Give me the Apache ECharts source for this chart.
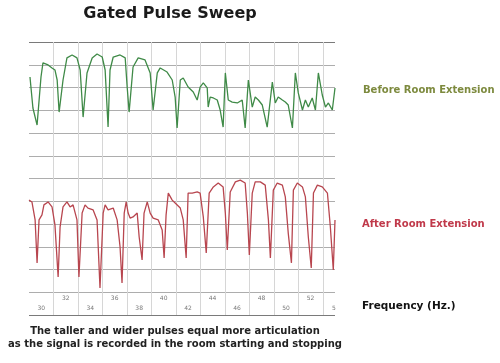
<!DOCTYPE html>
<html>
<head>
<meta charset="utf-8">
<script src="https://cdn.jsdelivr.net/npm/echarts@6/dist/echarts.min.js"></script>
<style>html,body{margin:0;padding:0;background:#fff}#c{width:500px;height:363px}</style>
</head>
<body>
<div id="c"></div>
<script>
// Sweep position (grid columns) and trace level (grid divisions)
const beforeX = [0.04,0.16,0.33,0.49,0.57,0.78,0.94,1.06,1.15,1.23,1.27,1.39,1.55,1.76,1.96,2.09,2.21,2.37,2.58,2.78,2.99,3.11,3.23,3.31,3.44,3.72,3.93,4.01,4.09,4.25,4.46,4.74,4.95,5.07,5.24,5.36,5.64,5.85,5.97,6.05,6.18,6.30,6.50,6.71,6.87,6.99,7.12,7.28,7.32,7.40,7.53,7.69,7.81,7.93,8.02,8.14,8.30,8.51,8.71,8.83,8.96,9.12,9.24,9.37,9.53,9.73,9.94,10.06,10.18,10.35,10.47,10.59,10.76,10.88,11.00,11.17,11.29,11.41,11.57,11.70,11.82,11.98,12.11,12.23,12.39,12.50];
const beforeY = [10.46,9.10,8.35,10.46,11.08,10.99,10.86,10.77,10.33,8.92,8.88,10.33,11.30,11.43,11.30,10.77,8.70,10.64,11.30,11.47,11.34,10.77,8.26,10.77,11.34,11.43,11.30,10.02,8.92,10.90,11.30,11.21,10.64,9.01,10.64,10.86,10.68,10.33,9.58,8.22,10.33,10.42,10.02,9.80,9.45,10.02,10.20,9.98,9.14,9.58,9.54,9.45,9.01,8.26,10.64,9.45,9.36,9.32,9.45,8.22,10.33,9.14,9.58,9.45,9.23,8.26,10.24,9.32,9.58,9.45,9.36,9.23,8.22,10.64,9.76,9.01,9.45,9.14,9.54,9.01,10.64,9.67,9.14,9.32,9.01,9.98];
const afterX = [0.00,0.12,0.25,0.33,0.41,0.53,0.61,0.78,0.94,1.06,1.19,1.27,1.39,1.55,1.68,1.80,1.96,2.04,2.17,2.29,2.41,2.62,2.78,2.90,3.03,3.11,3.23,3.44,3.60,3.72,3.80,3.89,3.97,4.05,4.13,4.25,4.42,4.50,4.62,4.70,4.83,4.95,5.07,5.28,5.44,5.52,5.60,5.69,5.85,5.97,6.18,6.30,6.42,6.50,6.67,6.87,6.99,7.12,7.24,7.36,7.53,7.73,7.93,8.02,8.10,8.22,8.43,8.63,8.83,8.92,9.00,9.12,9.24,9.45,9.65,9.78,9.86,9.98,10.14,10.35,10.47,10.59,10.72,10.80,10.96,11.17,11.29,11.41,11.53,11.62,11.78,11.98,12.19,12.31,12.43,12.50];
const afterY = [5.05,4.97,4.18,2.29,4.18,4.40,4.84,4.97,4.75,3.96,1.67,3.87,4.75,4.97,4.75,4.84,4.18,1.67,4.48,4.84,4.70,4.62,4.18,1.19,4.48,4.84,4.62,4.70,4.18,2.99,1.41,4.48,4.97,4.48,4.26,4.31,4.48,3.43,2.42,4.48,4.97,4.48,4.26,4.18,3.74,2.51,4.40,5.36,5.05,4.92,4.70,4.18,2.51,5.36,5.36,5.41,5.36,4.31,2.73,5.36,5.63,5.80,5.63,4.48,2.86,5.41,5.85,5.93,5.80,4.48,2.64,5.36,5.85,5.85,5.71,4.18,2.51,5.49,5.80,5.71,5.19,3.60,2.29,5.49,5.80,5.63,5.19,3.43,2.07,5.36,5.71,5.63,5.36,3.87,1.98,4.18];
const freqLabels = ['30','32','34','36','38','40','42','44','46','48','50','52','54'];

const zip = (xs, ys) => xs.map((x, i) => [x, ys[i]]);
const labelData = freqLabels.map((t, i) => ({
  value: [i + 0.5, i % 2 === 0 ? 0.31 : 0.75],
  name: t,
  label: i === freqLabels.length - 1 ? {width: 5, overflow: 'truncate', ellipsis: '', align: 'left', offset: [-3, 0]} : {}
}));

const hColors = [];
for (let i = 0; i <= 12; i++) hColors.push(i === 0 || i === 12 ? '#7a7a7a' : '#adadad');

const chart = echarts.init(document.getElementById('c'), null, {renderer: 'canvas'});
const font = 'DejaVu Sans, Verdana, sans-serif';
chart.setOption({
  backgroundColor: '#fff',
  animation: false,
  title: [
    {text: 'Gated Pulse Sweep', left: 170, top: 6, textAlign: 'center', padding: 0,
     textStyle: {fontFamily: font, fontSize: 16, fontWeight: 'bold', color: '#1a1a1a'}},
    {text: 'Before Room Extension', left: 363, top: 85, padding: 0,
     textStyle: {fontFamily: font, fontSize: 10, fontWeight: 'bold', color: '#7d8a3e'}},
    {text: 'After Room Extension', left: 362, top: 219, padding: 0,
     textStyle: {fontFamily: font, fontSize: 10, fontWeight: 'bold', color: '#c0394a'}},
    {text: 'Frequency (Hz.)', left: 362, top: 301, padding: 0,
     textStyle: {fontFamily: font, fontSize: 10.5, fontWeight: 'bold', color: '#111'}},
    {text: 'The taller and wider pulses equal more articulation\nas the signal is recorded in the room starting and stopping',
     left: 175, top: 325, textAlign: 'center', padding: 0,
     textStyle: {fontFamily: font, fontSize: 10, fontWeight: 'bold', color: '#222', lineHeight: 13}}
  ],
  grid: {left: 29, right: 165, top: 42, bottom: 48},
  xAxis: {
    type: 'value', min: 0, max: 12.5, interval: 1,
    axisLine: {show: false}, axisTick: {show: false}, axisLabel: {show: false},
    splitLine: {show: true, showMinLine: false, showMaxLine: false, lineStyle: {color: '#d6d6d6', width: 1}}
  },
  yAxis: {
    type: 'value', min: 0, max: 12, interval: 1,
    axisLine: {show: false}, axisTick: {show: false}, axisLabel: {show: false},
    splitLine: {show: true, lineStyle: {color: hColors, width: 1.2}}
  },
  series: [
    {type: 'line', data: zip(beforeX, beforeY), showSymbol: false, symbol: 'none',
     lineStyle: {color: '#3f8a47', width: 1.3}},
    {type: 'line', data: zip(afterX, afterY), showSymbol: false, symbol: 'none',
     lineStyle: {color: '#b8464f', width: 1.3}},
    {type: 'scatter', data: labelData, symbolSize: 0, silent: true,
     label: {show: true, position: 'inside', formatter: p => p.name,
             fontFamily: font, fontSize: 6, color: '#555'}}
  ]
});
</script>
</body>
</html>
